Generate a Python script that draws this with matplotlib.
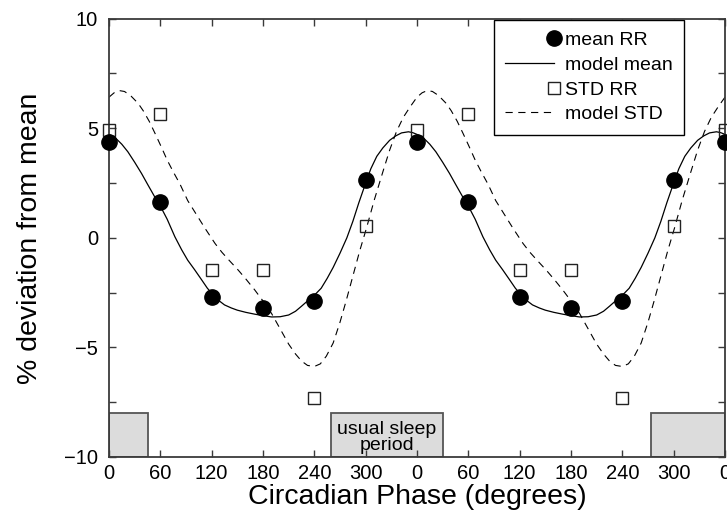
import numpy as np
import matplotlib
matplotlib.use("Agg")
import matplotlib.pyplot as plt
from matplotlib.legend_handler import HandlerLine2DCompound
from matplotlib.patches import Rectangle

plt.rcParams['font.family'] = ['Liberation Sans', 'DejaVu Sans']

# ---- data (one circadian cycle, shown twice) ----
phase_deg = [0, 60, 120, 180, 240, 300]
mean_rr = [4.38, 1.62, -2.72, -3.18, -2.90, 2.63]
std_rr = [4.92, 5.65, -1.47, -1.47, -7.29, 0.53]

# model curves (phase in degrees, % deviation)
mean_model_phase = [0, 7, 15, 22, 30, 38, 45, 53, 60, 68, 77, 85, 92, 100,
                    108, 115, 120, 128, 135, 143, 150, 160, 170, 180, 190,
                    200, 210, 218, 225, 232, 240, 248, 255, 262, 270, 278,
                    285, 292, 300, 306, 313, 320, 328, 335, 342, 350, 355]
mean_model = [4.72, 4.58, 4.27, 3.93, 3.45, 2.94, 2.45, 1.90, 1.45, 0.85,
              0.05, -0.55, -1.02, -1.45, -1.90, -2.30, -2.52, -2.85, -3.06,
              -3.20, -3.30, -3.40, -3.48, -3.55, -3.61, -3.60, -3.52, -3.35,
              -3.12, -2.88, -2.62, -2.30, -1.85, -1.35, -0.70, 0.00, 0.75,
              1.60, 2.50, 3.15, 3.72, 4.10, 4.45, 4.65, 4.79, 4.84, 4.80]

std_model_phase = [0, 6, 12, 18, 25, 34, 40, 47, 54, 61, 68, 75, 83, 92,
                   100, 112, 124, 132, 141, 151, 160, 170, 180, 190, 200,
                   210, 218, 225, 232, 240, 247, 254, 262, 270, 277, 285,
                   293, 301, 310, 320, 328, 336, 344, 352, 356]
std_model = [6.42, 6.62, 6.72, 6.68, 6.50, 6.14, 5.80, 5.32, 4.75, 4.16,
             3.55, 3.02, 2.45, 1.70, 1.20, 0.45, -0.26, -0.66, -1.05, -1.47,
             -1.88, -2.36, -2.88, -3.45, -4.15, -4.85, -5.30, -5.62, -5.82,
             -5.87, -5.75, -5.40, -4.80, -3.85, -2.90, -1.75, -0.60, 0.45,
             1.72, 3.00, 4.00, 4.85, 5.50, 5.98, 6.20]

period = 360
n_cycles = 2

xtick_vals = [0, 60, 120, 180, 240, 300, 360, 420, 480, 540, 600, 660, 720]
xtick_labels = ['0', '60', '120', '180', '240', '300', '0', '60', '120',
                '180', '240', '300', '0']
ytick_vals = [-10, -7.5, -5, -2.5, 0, 2.5, 5, 7.5, 10]
ytick_labels = ['\u221210', '', '\u22125', '', '0', '', '5', '', '10']

# bars marking the usual sleep period (start, end in degrees)
sleep_spans = [(0, 46), (260, 390), (634, 720)]
sleep_label = 'usual sleep\nperiod'


def two_cycles(ph, vals):
    x = []
    y = []
    for c in range(n_cycles):
        x += [p + c * period for p in ph]
        y += list(vals)
    x.append(ph[0] + n_cycles * period)
    y.append(vals[0])
    return np.array(x), np.array(y)


fig = plt.figure(figsize=(7.27, 5.23), dpi=100)
ax = fig.add_axes([109 / 727, 66 / 523, 616 / 727, 438.3 / 523])

spine_col = '#3a3a3a'

for (a, b) in sleep_spans:
    ax.add_patch(Rectangle((a, -10), b - a, 2, facecolor='#dcdcdc',
                           edgecolor='#555555', lw=1.3, zorder=1))
ax.text(325, -9.1, sleep_label, ha='center', va='center', fontsize=14,
        linespacing=0.92, zorder=1.5)

xm, ym = two_cycles(mean_model_phase, mean_model)
xs, ys = two_cycles(std_model_phase, std_model)
ax.plot(xm, ym, color='black', lw=0.9, zorder=2, label='model mean')
ax.plot(xs, ys, color='black', lw=0.8, ls=(0, (6.5, 5)), zorder=2,
        label='model STD')

xp, yp = two_cycles(phase_deg, std_rr)
ax.plot(xp, yp, ls='none', marker='s', ms=8.4, mfc='none', mec='#222222',
        mew=1.0, clip_on=False, zorder=3, label='STD RR')
xp, yp = two_cycles(phase_deg, mean_rr)
ax.plot(xp, yp, ls='none', marker='o', ms=11, mfc='black', mec='black',
        clip_on=False, zorder=4, label='mean RR')

ax.set_xlim(0, 720)
ax.set_ylim(-10, 10)
ax.set_xticks(xtick_vals)
ax.set_xticklabels(xtick_labels)
ax.set_yticks(ytick_vals)
ax.set_yticklabels(ytick_labels)
ax.tick_params(direction='in', top=True, right=True, length=5, width=1,
               color=spine_col, labelsize=14.5, pad=5)
ax.tick_params(axis='y', pad=8)
for s in ax.spines.values():
    s.set_color(spine_col)
    s.set_linewidth(1.3)

ax.set_xlabel('Circadian Phase (degrees)', fontsize=20.5, labelpad=1)
ax.set_ylabel('% deviation from mean', fontsize=20.5, labelpad=15)


class RightMarker(HandlerLine2DCompound):
    def get_xdata(self, legend, xdescent, ydescent, width, height, fontsize):
        xdata = np.array([-xdescent, -xdescent + width])
        xmark = np.array([-xdescent + width])
        return xdata, xmark


handles, labels = ax.get_legend_handles_labels()
order = ['mean RR', 'model mean', 'STD RR', 'model STD']
hmap = dict(zip(labels, handles))
leg = ax.legend([hmap[k] for k in order], order, loc='upper right',
                bbox_to_anchor=(575 / 616, 0.997), borderaxespad=0,
                fontsize=14, handlelength=2.47, handletextpad=0.57,
                labelspacing=0.36, borderpad=0.6, fancybox=False,
                framealpha=1, edgecolor='black', numpoints=1,
                handler_map={hmap['mean RR']: RightMarker(),
                             hmap['STD RR']: RightMarker()})
leg.get_frame().set_linewidth(1.0)
leg.set_zorder(2.4)

fig.savefig('out.png', dpi=100)
